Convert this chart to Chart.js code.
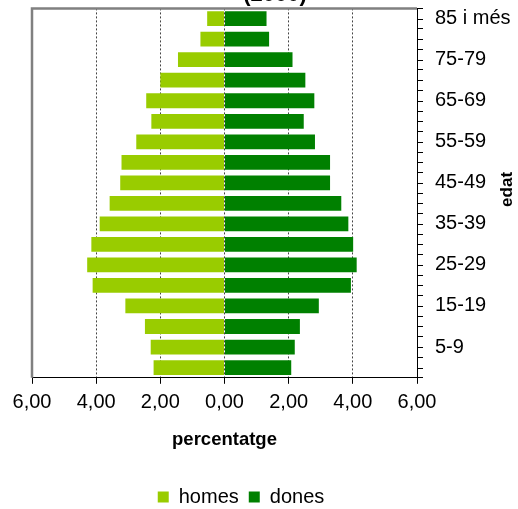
<!DOCTYPE html>
<html>
<head>
<meta charset="utf-8">
<script src="https://cdn.jsdelivr.net/npm/chart.js@4/dist/chart.umd.min.js"></script>
<style>
  html, body { margin: 0; padding: 0; background: #fff; }
  #wrap { position: relative; width: 518px; height: 509px; overflow: hidden; }
  #chart { position: absolute; left: 0; top: -20px; }
</style>
</head>
<body>
<div id="wrap"><canvas id="chart" width="518" height="537"></canvas></div>
<script>
const ages = ["85 i més", "80-84", "75-79", "70-74", "65-69", "60-64", "55-59", "50-54", "45-49",
  "40-44", "35-39", "30-34", "25-29", "20-24", "15-19", "10-14", "5-9", "0-4"];
const homes = [0.54, 0.75, 1.45, 2.00, 2.44, 2.28, 2.75, 3.21, 3.25, 3.58, 3.89, 4.15, 4.28, 4.11, 3.09, 2.48, 2.30, 2.21];
const dones = [1.31, 1.39, 2.12, 2.52, 2.80, 2.47, 2.82, 3.29, 3.29, 3.64, 3.86, 4.01, 4.12, 3.94, 2.94, 2.35, 2.19, 2.08];
const xTicks = [-6, -4, -2, 0, 2, 4, 6];

const FONT = "'Liberation Sans', Arial, sans-serif";

// gray frame on top/left, center ticks on the age axis, rotated "edat"
const framePlugin = {
  id: "frame",
  afterLayout(chart) {
    // legend sits a bit left of center in the original
    chart.legend.left -= 34;
    chart.legend.right -= 34;
  },
  afterDraw(chart) {
    const { ctx, chartArea } = chart;
    const y = chart.scales.y;
    ctx.save();
    ctx.strokeStyle = "#808080";
    ctx.lineWidth = 2.5;
    ctx.beginPath();
    ctx.moveTo(chartArea.left, chartArea.bottom);
    ctx.lineTo(chartArea.left, chartArea.top);
    ctx.lineTo(chartArea.right, chartArea.top);
    ctx.stroke();

    ctx.strokeStyle = "#000";
    ctx.lineWidth = 1;
    ctx.beginPath();
    ages.forEach((a, i) => {
      const py = Math.round(y.getPixelForValue(i)) + 0.5;
      ctx.moveTo(chartArea.right, py);
      ctx.lineTo(chartArea.right + 6, py);
    });
    ctx.stroke();

    ctx.fillStyle = "#000";
    ctx.font = "bold 17px " + FONT;
    ctx.textAlign = "center";
    ctx.textBaseline = "middle";
    ctx.translate(507, chartArea.top + 0.49 * (chartArea.bottom - chartArea.top));
    ctx.rotate(-Math.PI / 2);
    ctx.fillText("edat", 0, 0);
    ctx.restore();
  }
};

new Chart(document.getElementById("chart"), {
  type: "bar",
  data: {
    labels: ages,
    datasets: [
      { label: "homes", data: homes.map(v => -v), backgroundColor: "#99cc00" },
      { label: "dones", data: dones, backgroundColor: "#008000" }
    ]
  },
  options: {
    indexAxis: "y",
    responsive: false,
    animation: false,
    barPercentage: 0.72,
    categoryPercentage: 1,
    layout: { padding: { left: 32, right: 0, top: 0, bottom: 0 } },
    plugins: {
      tooltip: { enabled: false },
      title: {
        display: true,
        text: "(2000)",
        color: "#000",
        font: { family: FONT, size: 22, weight: "bold" },
        padding: { top: 2, bottom: 0 }
      },
      legend: {
        position: "bottom",
        labels: {
          color: "#000",
          boxWidth: 11,
          boxHeight: 11,
          font: { family: FONT, size: 20 }
        }
      }
    },
    scales: {
      x: {
        stacked: true,
        min: -6,
        max: 6,
        afterBuildTicks: (scale) => { scale.ticks = xTicks.map(v => ({ value: v })); },
        ticks: {
          color: "#000",
          padding: 7,
          font: { family: FONT, size: 20 },
          callback: (v) => Math.abs(v).toFixed(2).replace(".", ",")
        },
        grid: {
          color: (c) => (c.tick && Math.abs(c.tick.value) === 6 ? "rgba(0,0,0,0)" : "#444"),
          tickColor: "#000",
          tickLength: 6,
          lineWidth: 1
        },
        border: { display: true, color: "#000", width: 1, dash: [2, 2] },
        title: {
          display: true,
          text: "percentatge",
          color: "#000",
          font: { family: FONT, size: 18.5, weight: "bold" },
          padding: { top: 7, bottom: 26 }
        }
      },
      y: {
        stacked: true,
        position: "right",
        afterFit: (scale) => { scale.width = 101; },
        ticks: {
          color: "#000",
          padding: 12,
          autoSkip: false,
          font: { family: FONT, size: 20 },
          callback: (v, i) => (i % 2 === 0 ? ages[i] : "")
        },
        grid: {
          offset: true,
          drawOnChartArea: false,
          color: "#000",
          tickColor: "#000",
          tickLength: 6
        },
        border: { display: true, color: "#000", width: 1 }
      }
    }
  },
  plugins: [framePlugin]
});
</script>
</body>
</html>
